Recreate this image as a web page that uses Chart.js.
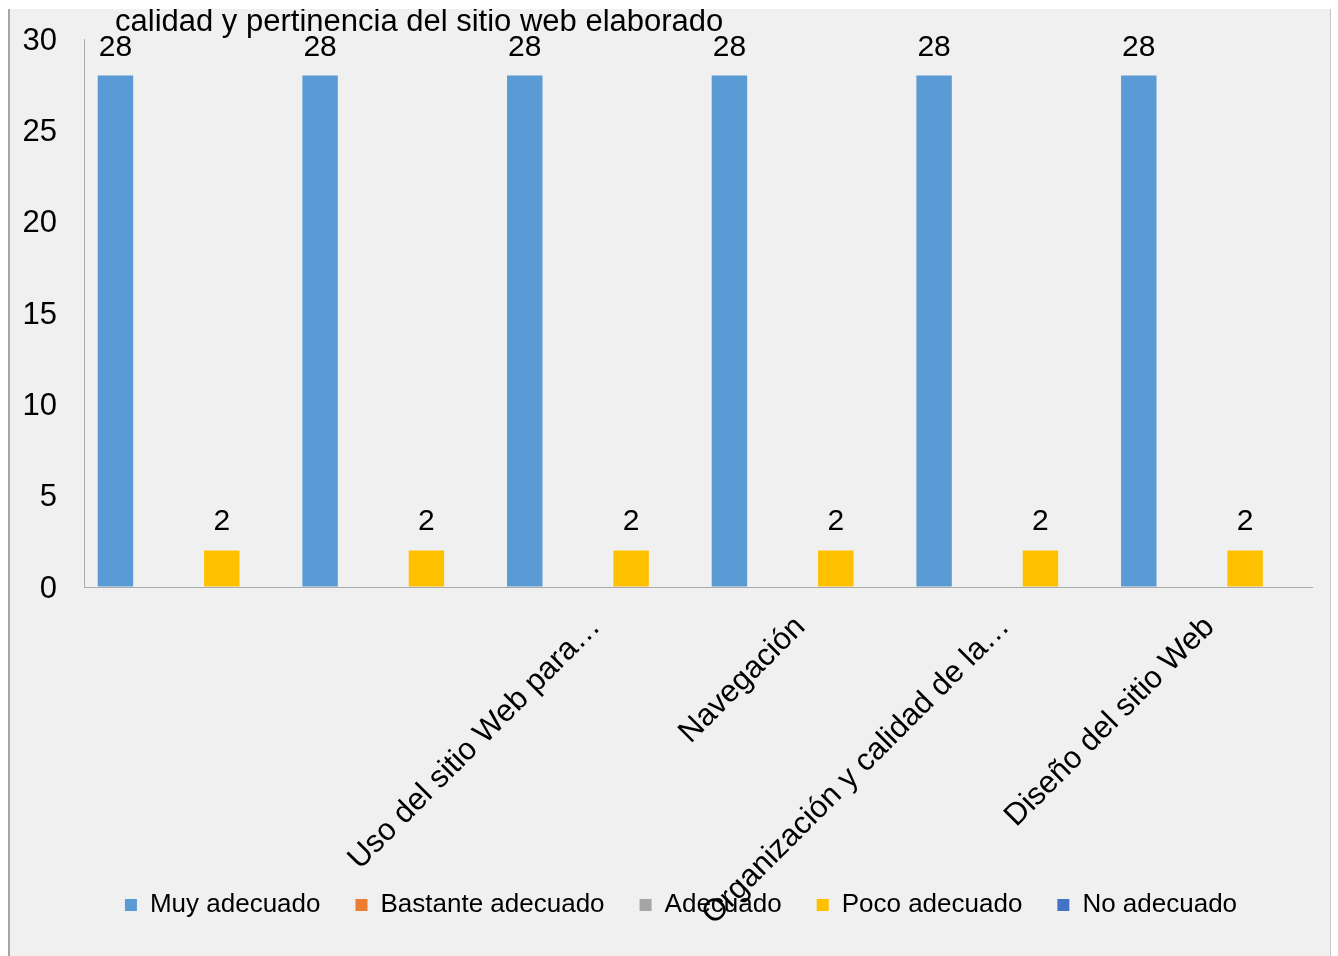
<!DOCTYPE html>
<html>
<head>
<meta charset="utf-8">
<script src="https://cdn.jsdelivr.net/npm/chart.js@4.4.1/dist/chart.umd.min.js"></script>
<style>
    html, body { margin: 0; padding: 0; background: #fff; overflow: hidden; }
    #marco {
        position: absolute; left: 8px; top: 9px; width: 1323px; height: 947px;
        box-sizing: border-box; background: #f0f0f0;
        border-left: 2px solid #a6a6a6; border-right: 1px solid #c8c8c8;
    }
    #canvas { display: block; }
</style>
</head>
<body>
<div id="marco"><canvas id="canvas" width="1320" height="947" style="width:1320px;height:947px"></canvas></div>
<script>
// datos
const categorias = ['', '', 'Uso del sitio Web para…', 'Navegación', 'Organización y calidad de la…', 'Diseño del sitio Web'];
const muyAdecuado = [28, 28, 28, 28, 28, 28];
const bastanteAdecuado = [null, null, null, null, null, null];
const adecuado = [null, null, null, null, null, null];
const pocoAdecuado = [2, 2, 2, 2, 2, 2];
const noAdecuado = [null, null, null, null, null, null];
const ticksY = [0, 5, 10, 15, 20, 25, 30];
const titulo = 'calidad y pertinencia del sitio web elaborado';

Chart.defaults.font.family = '"Liberation Sans", Arial, sans-serif';
Chart.defaults.color = '#000';

// etiquetas encima de cada barra
const etiquetas = {
    id: 'etiquetas',
    afterDatasetsDraw(chart) {
        let ctx = chart.ctx;
        ctx.save();
        ctx.font = '30px "Liberation Sans", Arial, sans-serif';
        ctx.fillStyle = '#000';
        ctx.textAlign = 'center';
        ctx.textBaseline = 'alphabetic';
        chart.data.datasets.forEach((ds, i) => {
            chart.getDatasetMeta(i).data.forEach((bar, j) => {
                if (ds.data[j] == null) return;
                ctx.fillText(ds.data[j], bar.x, bar.y - 20);
            });
        });
        ctx.restore();
    }
};

// titulo (solo se ve la segunda linea) + sin recorte de las etiquetas de los ejes
const tituloPlugin = {
    id: 'tituloPlugin',
    beforeDraw(chart) {
        Object.values(chart.scales).forEach(s => { s._computeLabelArea = () => undefined; });
    },
    afterDraw(chart) {
        let ctx = chart.ctx;
        ctx.save();
        ctx.font = '31px "Liberation Sans", Arial, sans-serif';
        ctx.fillStyle = '#000';
        ctx.textAlign = 'left';
        ctx.textBaseline = 'alphabetic';
        ctx.fillText(titulo, 105, 22);
        ctx.restore();
    }
};

function grafico() {
    let ctx = document.getElementById('canvas').getContext('2d');
    let myChart = new Chart(ctx, {
        type: 'bar',
        data: {
            labels: categorias,
            datasets: [
                { label: 'Muy adecuado', data: muyAdecuado, backgroundColor: '#5B9BD5' },
                { label: 'Bastante adecuado', data: bastanteAdecuado, backgroundColor: '#ED7D31' },
                { label: 'Adecuado', data: adecuado, backgroundColor: '#A5A5A5' },
                { label: 'Poco adecuado', data: pocoAdecuado, backgroundColor: '#FFC000' },
                { label: 'No adecuado', data: noAdecuado, backgroundColor: '#4472C4' }
            ]
        },
        options: {
            responsive: false,
            animation: false,
            layout: {
                padding: { left: 40, right: 18, top: 30, bottom: 28 }
            },
            datasets: {
                bar: { categoryPercentage: 0.866, barPercentage: 1.0 }
            },
            plugins: {
                title: { display: false },
                tooltip: { enabled: false },
                legend: {
                    position: 'bottom',
                    labels: {
                        boxWidth: 12,
                        boxHeight: 12,
                        padding: 35,
                        font: { size: 26 },
                        color: '#000'
                    }
                }
            },
            scales: {
                x: {
                    grid: { color: 'transparent', drawTicks: false },
                    border: { display: true, color: '#ababab', width: 1 },
                    ticks: {
                        minRotation: 45,
                        maxRotation: 45,
                        autoSkip: false,
                        padding: 22,
                        font: { size: 31 },
                        color: '#000'
                    },
                    afterFit: function (scale) {
                        let leyenda = scale.chart.legend;
                        let alto = leyenda ? leyenda.height : 0;
                        scale.height = 947 - 28 - alto - 578;
                        scale.paddingLeft = 0;
                        scale.paddingRight = 0;
                    }
                },
                y: {
                    min: 0,
                    max: 30,
                    grid: { color: 'transparent', drawTicks: false },
                    border: { display: true, color: '#ababab', width: 1 },
                    afterBuildTicks: function (scale) {
                        scale.ticks = ticksY.map(v => ({ value: v }));
                    },
                    ticks: {
                        padding: 27,
                        labelOffset: 2,
                        font: { size: 31 },
                        color: '#000'
                    },
                    afterFit: function (scale) {
                        scale.width = 74 - 40;
                        scale.paddingTop = 0;
                        scale.paddingBottom = 0;
                    }
                }
            }
        },
        plugins: [etiquetas, tituloPlugin]
    });
}

grafico();
</script>
</body>
</html>
